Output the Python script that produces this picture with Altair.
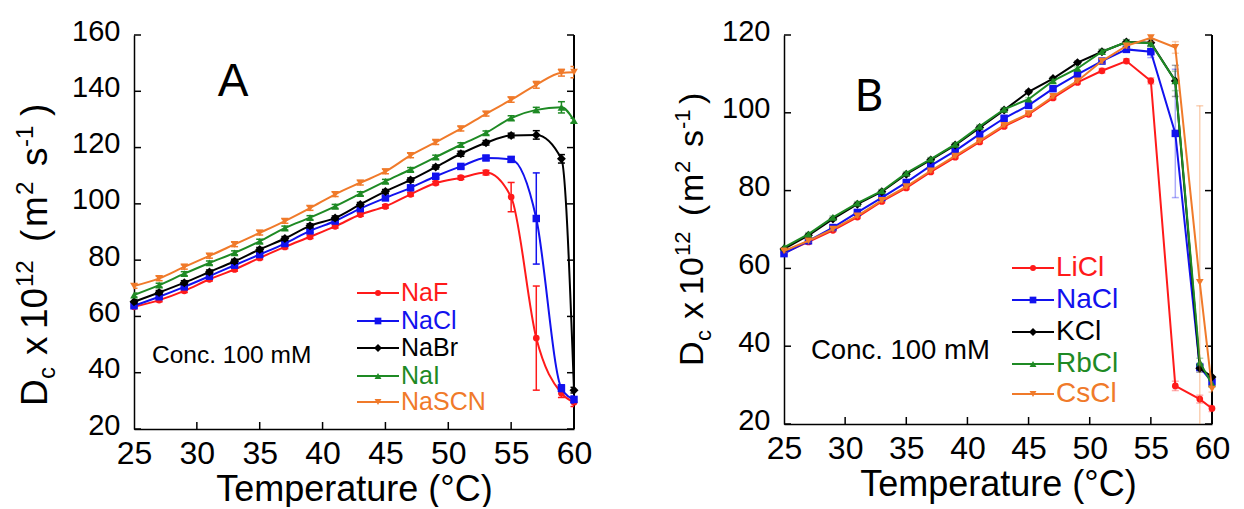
import altair as alt
import pandas as pd

FONT = "Liberation Sans"

temps = [25, 27, 29, 31, 33, 35, 37, 39, 41, 43, 45, 47, 49, 51, 53, 55, 57, 59, 60]

# ---------------- Panel A (anions, Na salts) ----------------
a_names = ["NaF", "NaCl", "NaBr", "NaI", "NaSCN"]
a_naf = [63.4, 65.8, 69.1, 73.2, 76.7, 80.8, 84.7, 88.3, 92.0, 96.2, 99.1, 103.4, 107.4, 109.3, 111.1, 102.4, 52.3, 32.7, 29.5]
a_nacl = [63.8, 67.0, 70.5, 74.3, 78.2, 82.0, 85.9, 90.4, 93.9, 98.3, 102.1, 105.7, 109.8, 113.3, 116.3, 115.8, 94.8, 34.5, 30.5]
a_nabr = [65.2, 68.5, 72.0, 75.8, 79.6, 83.8, 87.7, 92.2, 95.0, 99.8, 104.4, 108.5, 113.1, 117.8, 121.7, 124.3, 124.5, 116.0, 33.8]
a_nai = [67.6, 71.1, 75.2, 79.0, 82.6, 86.7, 91.4, 95.1, 99.1, 103.6, 108.0, 112.2, 116.6, 121.0, 125.2, 130.5, 133.4, 134.3, 129.6]
a_nascn = [70.8, 73.5, 77.6, 81.5, 85.6, 89.7, 93.9, 98.5, 103.4, 107.5, 111.5, 117.2, 121.9, 126.7, 132.0, 137.0, 142.3, 146.6, 146.8]
a_err_naf = [0.6, 0.6, 0.6, 0.6, 0.6, 0.6, 0.6, 0.6, 0.6, 0.6, 0.6, 0.6, 0.6, 0.6, 0.8, 5.2, 18.5, 1.5, 1.5]
a_err_nacl = [0.6, 0.6, 0.6, 0.6, 0.6, 0.6, 0.6, 0.6, 0.6, 0.6, 0.6, 0.6, 0.6, 0.6, 0.8, 0.9, 16.2, 1.2, 1.2]
a_err_nabr = [0.7, 0.7, 0.7, 0.7, 0.7, 0.7, 0.7, 0.7, 0.7, 0.7, 0.7, 0.7, 0.7, 0.9, 0.8, 0.8, 1.5, 1.5, 1.0]
a_err_nai = [0.7, 0.7, 0.7, 0.7, 0.7, 0.7, 0.7, 0.7, 0.7, 0.7, 0.7, 0.7, 0.7, 0.7, 0.7, 0.8, 0.9, 2.0, 0.8]
a_err_nascn = [0.8, 0.8, 0.8, 0.8, 0.8, 0.8, 0.8, 0.8, 0.8, 0.8, 0.8, 0.8, 0.8, 0.8, 0.8, 0.9, 1.2, 1.2, 2.0]
a_yticks = [20, 40, 60, 80, 100, 120, 140, 160]

# ---------------- Panel B (cations, chloride salts) ----------------
b_names = ["LiCl", "NaCl", "KCl", "RbCl", "CsCl"]
b_licl = [64.0, 66.8, 69.8, 73.2, 77.2, 80.7, 84.8, 88.6, 92.5, 96.5, 99.6, 103.8, 107.8, 110.8, 113.3, 108.2, 29.8, 26.4, 24.0]
b_nacl = [63.8, 67.1, 70.5, 74.4, 78.2, 82.1, 86.4, 90.2, 94.5, 98.6, 101.9, 106.2, 109.9, 113.3, 116.3, 115.7, 94.7, 34.6, 30.8]
b_kcl = [65.0, 68.5, 72.7, 76.5, 79.7, 84.2, 87.9, 91.7, 96.2, 100.7, 105.4, 108.8, 112.9, 115.7, 118.2, 118.0, 108.2, 34.3, 32.1]
b_rbcl = [65.4, 68.8, 73.1, 76.8, 79.9, 84.5, 88.1, 91.9, 96.5, 100.9, 103.5, 108.2, 111.4, 115.7, 118.2, 117.9, 108.2, 35.9, 30.3]
b_cscl = [64.5, 67.1, 70.1, 73.5, 77.5, 81.0, 85.1, 88.9, 92.8, 96.8, 99.8, 104.2, 108.2, 113.3, 117.2, 119.3, 116.8, 56.4, 29.0]
b_err_licl = [0.4, 0.4, 0.4, 0.4, 0.4, 0.4, 0.4, 0.4, 0.4, 0.4, 0.4, 0.4, 0.4, 0.6, 0.6, 0.8, 1.2, 1.0, 0.8]
b_err_nacl = [0.4, 0.4, 0.4, 0.4, 0.4, 0.4, 0.4, 0.4, 0.4, 0.4, 0.4, 0.4, 0.4, 0.6, 0.6, 1.5, 16.5, 1.0, 0.8]
b_err_kcl = [0.4, 0.4, 0.4, 0.4, 0.4, 0.4, 0.4, 0.4, 0.4, 0.4, 0.4, 0.4, 0.4, 0.6, 0.6, 0.8, 4.0, 1.0, 0.8]
b_err_rbcl = [0.4, 0.4, 0.4, 0.4, 0.4, 0.4, 0.4, 0.4, 0.4, 0.4, 0.4, 0.4, 0.4, 0.6, 0.6, 1.0, 2.5, 1.0, 0.8]
b_err_cscl = [0.4, 0.4, 0.4, 0.4, 0.4, 0.4, 0.4, 0.4, 0.4, 0.4, 0.4, 0.4, 0.4, 0.6, 0.6, 1.0, 1.5, 45.4, 0.8]
b_yticks = [20, 40, 60, 80, 100, 120]

x_ticks = [25, 30, 35, 40, 45, 50, 55, 60]
x_inner_ticks = [30, 35, 40, 45, 50, 55]

colors = ["#ff1a1a", "#1212ee", "#000000", "#1e8a24", "#f07a2a"]
shapes = ["circle", "square", "diamond", "triangle-up", "triangle-down"]
sizes = [45, 56, 80, 60, 60]


def make_panel(names, series, errs, ydom, yticks, W, H, interp, err_opacity,
               title_pieces, title_x, title_y0, label, label_font, label_size, label_xy,
               conc_xy, conc_size, leg_y, leg_x0, leg_font):
    xscale = alt.Scale(domain=[25, 60], nice=False, zero=False)
    yscale = alt.Scale(domain=ydom, nice=False, zero=False)
    xaxis = alt.Axis(values=x_ticks, ticks=False, grid=False, domainColor="black",
                     domainWidth=1.5, labelFont=FONT, labelFontSize=32, labelColor="black",
                     labelPadding=9, labelFlush=False, labelOverlap=False,
                     title="Temperature (°C)", titleFont=FONT, titleFontSize=36,
                     titleFontWeight="normal", titleColor="black", titlePadding=3)
    yaxis = alt.Axis(values=yticks, ticks=False, grid=False, domainColor="black",
                     domainWidth=1.5, labelFont=FONT, labelFontSize=29, labelColor="black",
                     labelPadding=14, labelOffset=-4, labelFlush=False, labelOverlap=False,
                     title=None)
    layers = []
    # inward ticks and right frame
    bt = pd.DataFrame({"xt": x_inner_ticks})
    layers.append(alt.Chart(bt).mark_rule(color="black", strokeWidth=1.5).encode(
        x=alt.X("xt:Q", scale=xscale, axis=xaxis), y=alt.value(H), y2=alt.value(H - 7)))
    lt = pd.DataFrame({"yt": yticks})
    layers.append(alt.Chart(lt).mark_rule(color="black", strokeWidth=1.5).encode(
        y=alt.Y("yt:Q", scale=yscale, axis=yaxis), x=alt.value(0), x2=alt.value(7)))
    layers.append(alt.Chart(lt).mark_rule(color="black", strokeWidth=1.5).encode(
        y=alt.Y("yt:Q", scale=yscale, axis=yaxis), x=alt.value(W - 7), x2=alt.value(W)))
    layers.append(alt.Chart(lt).mark_rule(color="black", strokeWidth=1.5).encode(
        x=alt.value(W), y=alt.value(0), y2=alt.value(H)))

    for i, name in enumerate(names):
        vals = series[i]
        er = errs[i]
        df = pd.DataFrame({"T": temps, "D": vals,
                           "lo": [v - e for v, e in zip(vals, er)],
                           "hi": [v + e for v, e in zip(vals, er)]})
        base = alt.Chart(df)
        X = alt.X("T:Q", scale=xscale, axis=xaxis)
        layers.append(base.mark_rule(color=colors[i], strokeWidth=1.5, opacity=err_opacity, clip=True).encode(
            x=X, y=alt.Y("lo:Q", scale=yscale, axis=yaxis), y2="hi:Q"))
        for fld in ["lo", "hi"]:
            layers.append(base.mark_tick(color=colors[i], orient="horizontal", size=7, thickness=1.5,
                                         opacity=err_opacity, clip=True).encode(
                x=X, y=alt.Y(f"{fld}:Q", scale=yscale, axis=yaxis)))
        layers.append(base.mark_line(color=colors[i], strokeWidth=2, interpolate=interp).encode(
            x=X, y=alt.Y("D:Q", scale=yscale, axis=yaxis)))
        layers.append(base.mark_point(color=colors[i], filled=True, opacity=1, shape=shapes[i],
                                      size=sizes[i]).encode(
            x=X, y=alt.Y("D:Q", scale=yscale, axis=yaxis)))

    # y axis title pieces (rotated)
    for txt, dx, dy, fs in title_pieces:
        layers.append(alt.Chart(pd.DataFrame({"t": [txt]})).mark_text(
            font=FONT, fontSize=fs, angle=270, align="left", baseline="alphabetic",
            dx=dx, dy=dy, color="black").encode(
            text="t:N", x=alt.value(title_x), y=alt.value(title_y0)))

    # panel label
    layers.append(alt.Chart(pd.DataFrame({"t": [label]})).mark_text(
        font=label_font, fontSize=label_size, align="center", baseline="middle", color="black").encode(
        text="t:N", x=alt.value(label_xy[0]), y=alt.value(label_xy[1])))
    # concentration note
    layers.append(alt.Chart(pd.DataFrame({"t": ["Conc. 100 mM"]})).mark_text(
        font=FONT, fontSize=conc_size, align="left", baseline="middle", color="black").encode(
        text="t:N", x=alt.value(conc_xy[0]), y=alt.value(conc_xy[1])))

    # legend
    for i, name in enumerate(names):
        yy = leg_y[i]
        layers.append(alt.Chart(pd.DataFrame({"t": [name]})).mark_rule(color=colors[i], strokeWidth=2).encode(
            x=alt.value(leg_x0), x2=alt.value(leg_x0 + 42), y=alt.value(yy)))
        layers.append(alt.Chart(pd.DataFrame({"t": [name]})).mark_point(
            color=colors[i], filled=True, opacity=1, shape=shapes[i], size=sizes[i] * 0.8).encode(
            x=alt.value(leg_x0 + 21), y=alt.value(yy)))
        layers.append(alt.Chart(pd.DataFrame({"t": [name]})).mark_text(
            font=FONT, fontSize=leg_font, align="left", baseline="middle", color=colors[i]).encode(
            text="t:N", x=alt.value(leg_x0 + 44), y=alt.value(yy)))

    return alt.layer(*layers).properties(width=W, height=H)


title_a = [("D", 0, 0, 37), ("c", 27, 8, 24), ("x", 51, 0, 37), ("10", 77, 0, 37),
           ("12", 119, -14, 24), ("(", 164, 0, 37), ("m", 179, 0, 37), ("2", 211, -14, 24),
           ("s", 240, 0, 37), ("-1", 259, -14, 24), (")", 290, 0, 37)]
title_b = [("D", 0, 0, 34), ("c", 25, 8, 22), ("x", 47, 0, 34), ("10", 71, 0, 34),
           ("12", 110, -13, 22), ("(", 150, 0, 34), ("m", 164, 0, 34), ("2", 193, -13, 22),
           ("s", 219, 0, 34), ("-1", 237, -13, 22), (")", 262, 0, 34)]

panel_a = make_panel(a_names, [a_naf, a_nacl, a_nabr, a_nai, a_nascn],
                     [a_err_naf, a_err_nacl, a_err_nabr, a_err_nai, a_err_nascn],
                     [20, 160], a_yticks, 440, 394, "monotone", 1.0,
                     title_a, -87, 371, "A", FONT, 46, (99, 47),
                     (18, 321), 24.5, [258, 286, 313, 341, 367], 223, 25)

panel_b = make_panel(b_names, [b_licl, b_nacl, b_kcl, b_rbcl, b_cscl],
                     [b_err_licl, b_err_nacl, b_err_kcl, b_err_rbcl, b_err_cscl],
                     [20, 120], b_yticks, 428, 389, "linear", 0.35,
                     title_b, -81, 331, "B", "Lato", 44, (85, 63),
                     (27, 316), 27.5, [233, 265, 297, 329, 359], 228, 28)

chart = alt.hconcat(panel_a, panel_b, spacing=79).configure_view(stroke=None).properties(
    padding={"left": 5, "top": 9, "right": 0, "bottom": 0})

chart.save("out.html", embed_options={"renderer": "svg", "actions": False})
